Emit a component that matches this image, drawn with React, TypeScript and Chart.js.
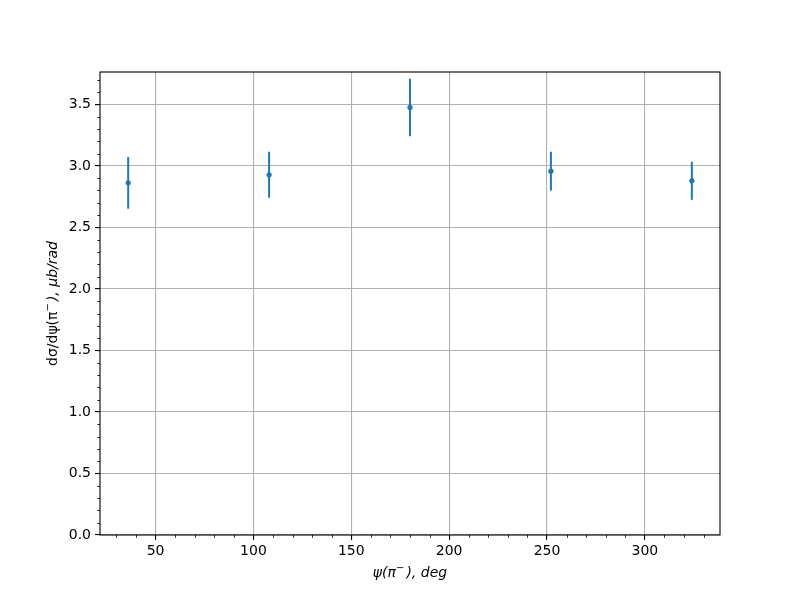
import React, { useEffect, useRef } from "react";
import { Chart, registerables } from "chart.js";

Chart.register(...registerables);

const angles = [36, 108, 180, 252, 324];
const values = [2.862, 2.928, 3.475, 2.957, 2.879];
const errors = [0.21, 0.187, 0.234, 0.158, 0.155];
const xMajorStep = 50;
const xMinorStep = 10;
const yMajorStep = 0.5;
const yMinorStep = 0.1;

const COLOR = "#1f77b4";
const FONT = "'DejaVu Sans', sans-serif";

const decorPlugin = {
  id: "decor",
  afterDatasetsDraw(chart: any) {
    const ctx = chart.ctx;
    const xs = chart.scales.x;
    const ys = chart.scales.y;
    ctx.save();
    ctx.strokeStyle = COLOR;
    ctx.lineWidth = 2;
    angles.forEach((a, i) => {
      const px = xs.getPixelForValue(a);
      const top = ys.getPixelForValue(values[i] + errors[i]);
      const bot = ys.getPixelForValue(values[i] - errors[i]);
      ctx.beginPath();
      ctx.moveTo(px, top);
      ctx.lineTo(px, bot);
      ctx.stroke();
    });
    ctx.restore();
  },
  afterDraw(chart: any) {
    const ctx = chart.ctx;
    const xs = chart.scales.x;
    const ys = chart.scales.y;
    const a = chart.chartArea;
    ctx.save();
    ctx.strokeStyle = "#000";
    ctx.lineWidth = 1.1;
    ctx.strokeRect(a.left, a.top, a.right - a.left, a.bottom - a.top);
    ctx.lineWidth = 0.8;
    ctx.beginPath();
    for (let v = Math.ceil(xs.min / xMinorStep) * xMinorStep; v <= xs.max; v += xMinorStep) {
      if (Math.abs(v % xMajorStep) < 1e-6) continue;
      const px = Math.round(xs.getPixelForValue(v)) + 0.5;
      ctx.moveTo(px, a.bottom);
      ctx.lineTo(px, a.bottom + 2.8);
    }
    for (let k = 0; k * yMinorStep <= ys.max + 1e-9; k++) {
      if (k % 5 === 0) continue;
      const v = k * yMinorStep;
      const py = Math.round(ys.getPixelForValue(v)) + 0.5;
      ctx.moveTo(a.left, py);
      ctx.lineTo(a.left - 2.8, py);
    }
    ctx.stroke();

    ctx.fillStyle = "#000";
    ctx.textBaseline = "alphabetic";
    const drawParts = (parts: { t: string; it?: boolean; sup?: boolean }[], cx: number, cy: number) => {
      const widths = parts.map((p) => {
        ctx.font = `${p.it ? "italic " : ""}${p.sup ? 10 : 14}px ${FONT}`;
        return ctx.measureText(p.t).width;
      });
      const total = widths.reduce((s, w) => s + w, 0);
      let x = cx - total / 2;
      parts.forEach((p, i) => {
        ctx.font = `${p.it ? "italic " : ""}${p.sup ? 10 : 14}px ${FONT}`;
        ctx.fillText(p.t, x, cy + (p.sup ? -6 : 0));
        x += widths[i];
      });
    };
    const cxPlot = (a.left + a.right) / 2;
    drawParts(
      [
        { t: "ψ(π", it: true },
        { t: "−\u2009", sup: true, it: true },
        { t: "), ", it: true },
        { t: "deg", it: true },
      ],
      cxPlot,
      577
    );
    ctx.save();
    ctx.translate(57, (a.top + a.bottom) / 2);
    ctx.rotate(-Math.PI / 2);
    drawParts(
      [
        { t: "dσ/dψ(π" },
        { t: "−\u2009", sup: true, it: true },
        { t: "), ", it: true },
        { t: "μb/rad", it: true },
      ],
      0,
      0
    );
    ctx.restore();
    ctx.restore();
  },
};

export default function App() {
  const ref = useRef<HTMLCanvasElement | null>(null);
  useEffect(() => {
    if (!ref.current) return;
    const chart = new Chart(ref.current, {
      type: "scatter",
      data: {
        datasets: [
          {
            data: angles.map((a, i) => ({ x: a, y: values[i] })),
            backgroundColor: COLOR,
            borderColor: COLOR,
            pointRadius: 2.6,
            pointBorderWidth: 0,
          },
        ],
      },
      options: {
        animation: false,
        responsive: true,
        maintainAspectRatio: false,
        layout: { padding: { top: 72, right: 80, left: 0, bottom: 0 } },
        plugins: { legend: { display: false }, tooltip: { enabled: false } },
        scales: {
          x: {
            type: "linear",
            min: 21.6,
            max: 338.4,
            afterFit: (s: any) => {
              s.height = 65;
            },
            ticks: {
              stepSize: xMajorStep,
              includeBounds: false,
              color: "#000",
              padding: 3,
              font: { family: FONT, size: 14 },
              maxRotation: 0,
            },
            grid: {
              color: "#b0b0b0",
              lineWidth: 1.1,
              tickColor: "#000",
              tickLength: 5,
              drawTicks: true,
            },
            border: { display: false },
          },
          y: {
            type: "linear",
            min: 0,
            max: 3.763,
            afterFit: (s: any) => {
              s.width = 100;
            },
            ticks: {
              stepSize: yMajorStep,
              includeBounds: false,
              color: "#000",
              padding: 4,
              font: { family: FONT, size: 14 },
              callback: (v: any) => Number(v).toFixed(1),
            },
            grid: {
              color: "#b0b0b0",
              lineWidth: 1.1,
              tickColor: "#000",
              tickLength: 5,
              drawTicks: true,
            },
            border: { display: false },
          },
        },
      },
      plugins: [decorPlugin],
    } as any);
    return () => chart.destroy();
  }, []);
  return (
    <div style={{ position: "fixed", left: 0, top: 0, width: 800, height: 600, background: "#fff" }}>
      <canvas ref={ref} />
    </div>
  );
}
